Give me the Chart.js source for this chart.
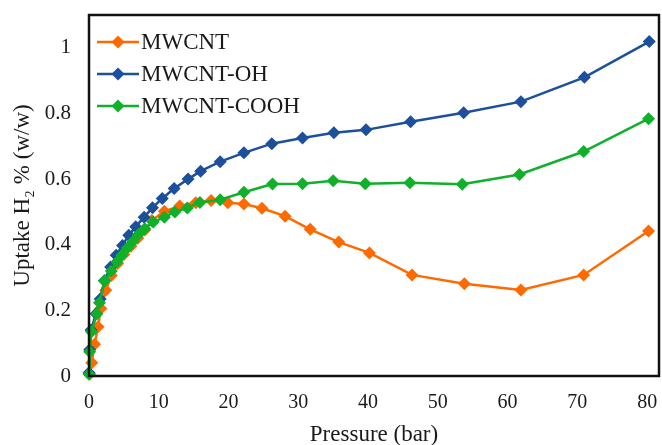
<!DOCTYPE html>
<html>
<head>
<meta charset="utf-8">
<script src="https://cdn.jsdelivr.net/npm/chart.js@4/dist/chart.umd.min.js"></script>
<style>
  html, body { margin: 0; padding: 0; background: #fff; }
  #c { display: block; }
</style>
</head>
<body>
<canvas id="c" width="662" height="445"></canvas>
<script>
// ─── Data ─────────────────────────────────────────────────────────────────────

const SERIES_NAMES = ["MWCNT", "MWCNT-OH", "MWCNT-COOH"];

const P_MWCNT = [0.1, 0.4, 0.8, 1.3, 1.7, 2.4, 3.2, 4.1, 5.0, 6.0, 7.0, 8.0, 9.0, 10.8, 13.0, 15.3, 17.5, 19.9, 22.2, 24.8, 28.1, 31.7, 35.8, 40.2, 46.3, 53.8, 61.9, 70.9, 80.2];
const U_MWCNT = [0.006, 0.04, 0.097, 0.15, 0.206, 0.261, 0.306, 0.343, 0.37, 0.395, 0.42, 0.445, 0.474, 0.502, 0.518, 0.528, 0.535, 0.528, 0.524, 0.511, 0.487, 0.447, 0.408, 0.375, 0.308, 0.281, 0.262, 0.308, 0.442];

const P_OH = [0, 0.1, 0.3, 1.0, 1.6, 2.2, 3.1, 3.9, 4.8, 5.7, 6.7, 7.9, 9.1, 10.5, 12.2, 14.2, 16.0, 18.8, 22.2, 26.2, 30.6, 35.1, 39.7, 46.1, 53.7, 61.9, 71.0, 80.3];
const U_OH = [0.01, 0.08, 0.14, 0.19, 0.235, 0.29, 0.332, 0.368, 0.398, 0.429, 0.455, 0.484, 0.513, 0.541, 0.571, 0.600, 0.624, 0.653, 0.680, 0.708, 0.725, 0.741, 0.750, 0.775, 0.802, 0.836, 0.910, 1.019];

const P_COOH = [0, 0.1, 0.35, 1.15, 1.5, 2.25, 3.2, 4.0, 4.7, 5.5, 6.3, 7.1, 8.0, 9.2, 10.8, 12.3, 14.1, 15.9, 18.8, 22.2, 26.3, 30.6, 35.0, 39.6, 46.0, 53.5, 61.7, 70.9, 80.2];
const U_COOH = [0.005, 0.074, 0.135, 0.19, 0.223, 0.29, 0.32, 0.347, 0.368, 0.39, 0.41, 0.432, 0.449, 0.469, 0.484, 0.500, 0.512, 0.529, 0.537, 0.560, 0.585, 0.586, 0.595, 0.586, 0.589, 0.584, 0.614, 0.684, 0.784];

const X_TICKS = [0, 10, 20, 30, 40, 50, 60, 70, 80];
const Y_TICKS = [0, 0.2, 0.4, 0.6, 0.8, 1];

// ─── Style ────────────────────────────────────────────────────────────────────

const COLORS = ["#ff6a00", "#1c4f9c", "#10b02a"];
const SERIF  = "'Liberation Serif', 'Times New Roman', serif";
const INK    = "#1a1a1a";

const toPoints = (xs, ys) => xs.map((x, i) => ({ x, y: ys[i] }));

function buildDataset(i, xs, ys) {
  return {
    label: SERIES_NAMES[i],
    data: toPoints(xs, ys),
    borderColor: COLORS[i],
    backgroundColor: COLORS[i],
    borderWidth: 2.5,
    pointStyle: "rectRot",
    pointRadius: 6.5,
    pointBorderWidth: 0,
    pointHoverRadius: 6.5,
    tension: 0,
    clip: false,
    order: 3 - i,
  };
}

// ─── Plugins ──────────────────────────────────────────────────────────────────

const framePlugin = {
  id: "frame",
  afterDraw(chart) {
    const { ctx, chartArea: a } = chart;
    ctx.save();
    ctx.strokeStyle = "#111";
    ctx.lineWidth = 2.5;
    ctx.strokeRect(a.left, a.top, a.right - a.left, a.bottom - a.top);
    ctx.restore();
  },
};

const legendPlugin = {
  id: "insideLegend",
  afterDraw(chart) {
    const { ctx } = chart;
    const rows = [42, 74, 106];
    ctx.save();
    chart.data.datasets.forEach((ds, i) => {
      const y = rows[i];
      ctx.strokeStyle = ds.borderColor;
      ctx.fillStyle = ds.borderColor;
      ctx.lineWidth = 2.5;
      ctx.beginPath();
      ctx.moveTo(97, y);
      ctx.lineTo(139, y);
      ctx.stroke();
      const cx = 118, r = 6.5;
      ctx.beginPath();
      ctx.moveTo(cx, y - r);
      ctx.lineTo(cx + r, y);
      ctx.lineTo(cx, y + r);
      ctx.lineTo(cx - r, y);
      ctx.closePath();
      ctx.fill();
      ctx.fillStyle = INK;
      ctx.font = `23px ${SERIF}`;
      ctx.textBaseline = "middle";
      ctx.textAlign = "left";
      ctx.fillText(ds.label, 141, y + 1);
    });
    ctx.restore();
  },
};

// ─── Chart ────────────────────────────────────────────────────────────────────

new Chart(document.getElementById("c"), {
  type: "line",
  data: {
    datasets: [
      buildDataset(0, P_MWCNT, U_MWCNT),
      buildDataset(1, P_OH, U_OH),
      buildDataset(2, P_COOH, U_COOH),
    ],
  },
  options: {
    responsive: false,
    devicePixelRatio: 1,
    animation: false,
    layout: { autoPadding: false, padding: { left: 0, top: 15, right: 3, bottom: 0 } },
    plugins: { legend: { display: false }, tooltip: { enabled: false } },
    scales: {
      x: {
        type: "linear",
        min: 0,
        max: 81.7,
        afterFit: (s) => { s.height = 69; s.paddingLeft = 0; s.paddingRight = 0; },
        afterBuildTicks: (s) => { s.ticks = X_TICKS.map((v) => ({ value: v })); },
        grid: { display: false, drawTicks: false },
        border: { display: false },
        ticks: { color: INK, padding: 15, font: { family: SERIF, size: 20 }, callback: (v) => String(v) },
        title: {
          display: true,
          text: "Pressure (bar)",
          color: INK,
          padding: { top: 0, bottom: -4 },
          font: { family: SERIF, size: 23 },
        },
      },
      y: {
        min: 0,
        max: 1.1,
        afterFit: (s) => { s.width = 89; s.paddingTop = 0; s.paddingBottom = 0; },
        afterBuildTicks: (s) => { s.ticks = Y_TICKS.map((v) => ({ value: v })); },
        grid: { display: false, drawTicks: false },
        border: { display: false },
        ticks: { color: INK, padding: 18, font: { family: SERIF, size: 21 }, callback: (v) => String(v) },
        title: {
          display: true,
          text: "Uptake H\u2082 % (w/w)",
          color: INK,
          padding: { top: 9, bottom: 0 },
          font: { family: SERIF, size: 23 },
        },
      },
    },
  },
  plugins: [framePlugin, legendPlugin],
});
</script>
</body>
</html>
